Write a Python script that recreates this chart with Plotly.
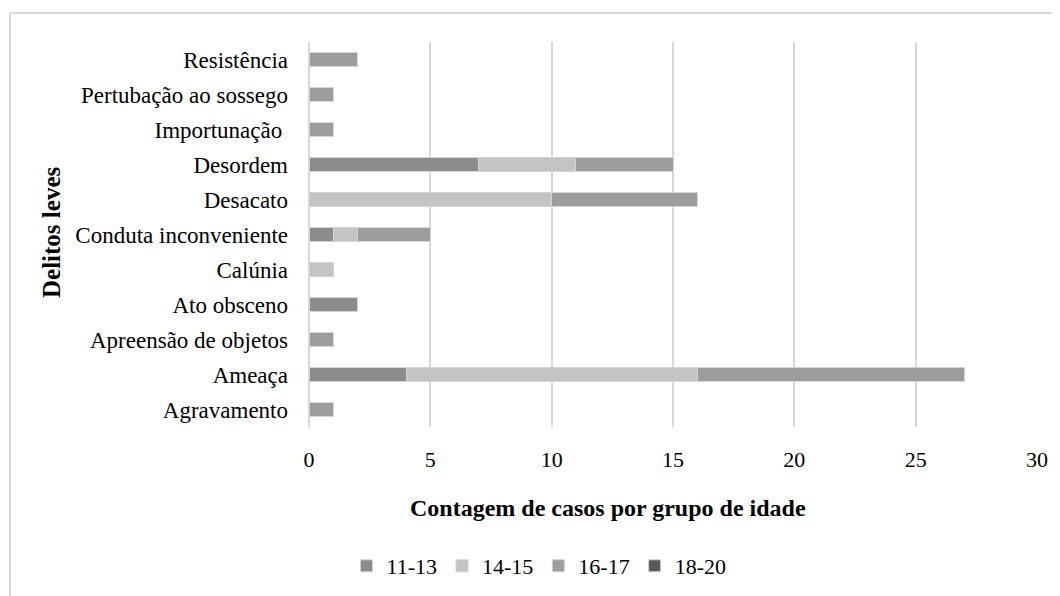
"""Delitos leves por grupo de idade - barras horizontais empilhadas."""

import plotly.graph_objects as go


CATEGORIAS = [
    "Agravamento",
    "Ameaça",
    "Apreensão de objetos",
    "Ato obsceno",
    "Calúnia",
    "Conduta inconveniente",
    "Desacato",
    "Desordem",
    "Importunação ",
    "Pertubação ao sossego",
    "Resistência",
]

GRUPOS = ["11-13", "14-15", "16-17", "18-20"]

IDADE_11_13 = [None, 4, None, 2, None, 1, None, 7, None, None, None]
IDADE_14_15 = [None, 12, None, None, 1, 1, 10, 4, None, None, None]
IDADE_16_17 = [1, 11, 1, None, None, 3, 6, 4, 1, 1, 2]
IDADE_18_20 = [None] * len(CATEGORIAS)

CORES = ["#8c8c8c", "#c4c4c4", "#9d9d9d", "#595959"]

FONTE = "Liberation Serif, Times New Roman, serif"

# area do grafico em pixels da pagina (janela 1060x596)
L, R, T, B = 309, 1037, 42, 427
W, H = R - L, B - T
# margem padrao do <body> no html gerado
OFF = 8


def px_x(px):
    return (px - L) / W


def px_y(py):
    return (B - py) / H


def main():
    fig = go.Figure()

    series = [IDADE_11_13, IDADE_14_15, IDADE_16_17, IDADE_18_20]
    for nome, valores, cor in zip(GRUPOS, series, CORES):
        fig.add_trace(
            go.Bar(
                y=CATEGORIAS,
                x=valores,
                name=nome,
                orientation="h",
                marker=dict(color=cor, line=dict(color="#d4d4d4", width=1)),
                width=0.4,
            )
        )

    fig.update_layout(
        barmode="stack",
        width=1060,
        height=596,
        plot_bgcolor="white",
        paper_bgcolor="white",
        margin=dict(l=L - OFF, r=1060 - (R - OFF), t=T - OFF, b=596 - (B - OFF)),
        font=dict(family=FONTE, size=22, color="#000000"),
        showlegend=True,
        legend=dict(
            orientation="h",
            x=px_x(539),
            xanchor="center",
            y=px_y(566),
            yanchor="middle",
            font=dict(size=22),
            traceorder="normal",
        ),
        xaxis=dict(
            range=[0, 30],
            dtick=5,
            showgrid=True,
            gridcolor="#d9d9d9",
            gridwidth=1.5,
            zeroline=True,
            zerolinecolor="#d9d9d9",
            zerolinewidth=1.5,
            ticks="",
            ticklabelstandoff=17,
            fixedrange=True,
        ),
        yaxis=dict(
            categoryorder="array",
            categoryarray=CATEGORIAS,
            ticks="",
            ticklabelstandoff=20,
            showgrid=False,
            tickfont=dict(size=23),
        ),
        annotations=[
            dict(
                text="<b>Contagem de casos por grupo de idade</b>",
                xref="paper",
                yref="paper",
                x=px_x(608),
                y=px_y(508),
                xanchor="center",
                yanchor="middle",
                showarrow=False,
                font=dict(size=24),
            ),
            dict(
                text="<b>Delitos leves</b>",
                xref="paper",
                yref="paper",
                x=px_x(51),
                y=px_y(233),
                xanchor="center",
                yanchor="middle",
                textangle=-90,
                showarrow=False,
                font=dict(size=25),
            ),
        ],
        shapes=[
            dict(
                type="line",
                xref="paper",
                yref="paper",
                x0=px_x(10),
                x1=px_x(10),
                y0=px_y(13),
                y1=px_y(610),
                line=dict(color="#d9d9d9", width=2),
            ),
            dict(
                type="line",
                xref="paper",
                yref="paper",
                x0=px_x(10),
                x1=px_x(1075),
                y0=px_y(13),
                y1=px_y(13),
                line=dict(color="#d9d9d9", width=2),
            ),
        ],
    )

    fig.write_html("out.html")


if __name__ == "__main__":
    main()
